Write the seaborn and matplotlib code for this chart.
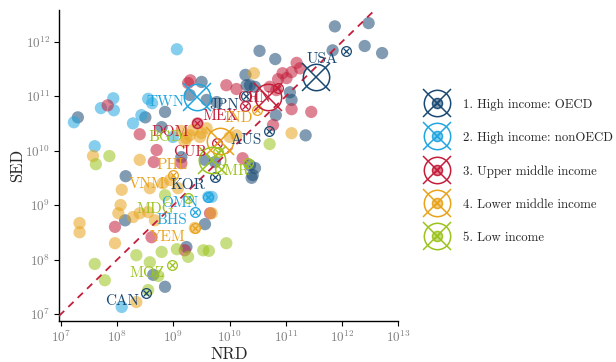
import numpy as np
import pandas as pd
import matplotlib
matplotlib.use("Agg")
import matplotlib.pyplot as plt
from matplotlib.lines import Line2D
from matplotlib.legend_handler import HandlerTuple
import seaborn as sns

# ---- income groups -------------------------------------------------------
groups = [
    "1. High income: OECD",
    "2. High income: nonOECD",
    "3. Upper middle income",
    "4. Lower middle income",
    "5. Low income",
]
colors = ["#1a4a73", "#22a6e0", "#c41e3a", "#e8a31b", "#9cc31c"]

# ---- country observations (log10 of NRD and SED) -------------------------
oecd_nrd = [7.30, 8.50, 8.85, 8.79, 8.15, 9.29, 9.77, 10.30, 10.45, 10.53, 10.81,
            11.87, 12.47, 12.40, 12.71, 11.83, 10.28, 10.36, 11.10, 11.07, 11.35,
            10.36, 10.41, 10.39, 9.56, 9.23, 8.64, 8.85, 9.14, 9.56, 9.74, 8.14,
            10.82, 10.45, 9.59, 9.50]
oecd_sed = [10.61, 10.61, 10.71, 10.43, 9.53, 11.02, 10.89, 11.20, 11.17, 11.83, 11.68,
            12.28, 12.34, 11.92, 11.79, 11.84, 11.39, 11.20, 10.93, 11.07, 10.28,
            9.73, 9.55, 9.50, 8.65, 8.23, 7.72, 7.50, 9.88, 9.83, 9.79, 8.72,
            10.65, 9.68, 10.93, 11.26]

nonoecd_nrd = [9.06, 7.23, 7.71, 7.93, 7.94, 8.55, 8.62, 8.43, 8.28, 7.60, 8.99,
               8.08, 9.62, 9.68]
nonoecd_sed = [11.86, 10.52, 10.78, 10.96, 10.74, 10.95, 10.87, 10.65, 10.50, 10.08, 10.25,
               7.13, 9.15, 9.15]

upper_nrd = [9.30, 7.83, 8.40, 8.70, 8.65, 9.14, 9.43, 7.96, 8.61, 9.20, 9.65,
             9.94, 10.12, 11.19, 11.10, 11.01, 10.86, 10.71, 10.83, 11.10, 11.45,
             10.77, 9.26, 10.23, 11.25, 10.94]
upper_sed = [11.29, 10.83, 10.30, 10.01, 9.79, 9.77, 10.50, 8.60, 8.41, 8.17, 8.85,
             11.20, 11.13, 11.61, 11.44, 11.33, 11.31, 11.17, 11.11, 10.76, 10.71,
             10.47, 11.24, 9.86, 11.51, 11.42]

lower_nrd = [7.57, 8.40, 8.08, 8.58, 8.81, 8.94, 8.06, 8.02, 8.28, 8.40, 8.55,
             7.33, 7.33, 7.96, 8.67, 8.34, 10.43, 11.10, 9.59, 9.50, 9.29, 9.20,
             9.14, 9.35, 9.47, 9.23, 10.00, 10.12, 9.68, 9.38, 9.08]
lower_sed = [9.90, 9.83, 9.28, 9.31, 9.40, 9.46, 9.00, 8.85, 8.78, 8.85, 8.87,
             8.67, 8.50, 8.30, 8.72, 7.22, 11.42, 10.32, 10.41, 10.32, 10.28, 10.16,
             10.36, 10.38, 10.25, 10.23, 10.25, 10.28, 8.85, 8.58, 9.31]

low_nrd = [7.62, 7.86, 8.85, 7.60, 7.78, 8.34, 8.58, 8.79, 9.06, 9.26, 9.53,
           9.94, 9.63, 8.73, 8.55, 10.71]
low_sed = [9.75, 9.90, 9.18, 7.92, 7.62, 8.08, 7.95, 8.14, 8.19, 8.05, 8.17,
           8.30, 8.16, 7.70, 7.44, 10.12]

# ---- highlighted countries (small circled crosses) -----------------------
mark_nrd = [12.07, 10.29, 10.69, 9.74, 8.52,
            9.62, 9.38,
            9.42, 9.77, 10.27, 10.86,
            8.99, 9.38, 10.48,
            8.98, 9.26, 9.79, 10.32]
mark_sed = [11.83, 11.00, 10.36, 9.51, 7.39,
            9.15, 8.87,
            10.50, 10.14, 10.82, 11.15,
            9.55, 8.58, 10.74,
            7.90, 9.13, 9.97, 9.77]
mark_group = [0, 0, 0, 0, 0,
              1, 1,
              2, 2, 2, 2,
              3, 3, 3,
              4, 4, 4, 4]

# ---- group centres (large circled crosses) -------------------------------
centre_nrd = [11.53, 9.41, 10.68, 9.82, 9.68]
centre_sed = [11.35, 10.98, 10.98, 10.17, 9.83]

# ---- country codes -------------------------------------------------------
label_text = ["USA", "TWN", "JPN", "CHN", "MEX", "IND", "DOM", "BGD", "AUS", "CUB",
              "CMR", "PHL", "VNM", "KOR", "OMN", "MDG", "BHS", "YEM", "MOZ", "CAN"]
label_nrd = [11.65, 8.86, 9.91, 10.43, 9.84, 10.16, 8.94, 8.86, 10.30, 9.29,
             10.02, 8.97, 8.53, 9.26, 9.11, 8.67, 8.97, 8.90, 8.53, 8.08]
label_sed = [11.68, 10.89, 10.83, 10.96, 10.63, 10.60, 10.34, 10.25, 10.19, 9.97,
             9.62, 9.73, 9.39, 9.37, 9.04, 8.93, 8.72, 8.41, 7.75, 7.24]
label_group = [0, 1, 0, 2, 2, 3, 2, 4, 0, 2,
               4, 3, 3, 0, 1, 4, 1, 3, 4, 0]

# ---- tidy table of all observations --------------------------------------
frames = []
for g, (xs, ys) in enumerate([(oecd_nrd, oecd_sed), (nonoecd_nrd, nonoecd_sed),
                              (upper_nrd, upper_sed), (lower_nrd, lower_sed),
                              (low_nrd, low_sed)]):
    frames.append(pd.DataFrame({"NRD": 10.0 ** np.array(xs),
                                "SED": 10.0 ** np.array(ys),
                                "group": groups[g]}))
df = pd.concat(frames, ignore_index=True)

# ---- style ---------------------------------------------------------------
sns.set_style("ticks")
plt.rcParams["font.family"] = ["cmr10", "DejaVu Serif"]
plt.rcParams["mathtext.fontset"] = "cm"
plt.rcParams["axes.formatter.use_mathtext"] = True
plt.rcParams["axes.unicode_minus"] = False

fig = plt.figure(figsize=(6.16, 3.62), dpi=100)
ax = fig.add_axes([0.0958, 0.114, 0.551, 0.858])

alpha = 0.55
sns.scatterplot(data=df, x="NRD", y="SED", hue="group", hue_order=groups,
                palette=colors, s=78, alpha=alpha, linewidth=0, legend=False,
                ax=ax, zorder=2)
ax.set_xscale("log")
ax.set_yscale("log")

xlo, xhi = 10 ** 6.965, 10 ** 13.0
ylo, yhi = 10 ** 6.877, 10 ** 12.578

# 45-degree reference line
ax.plot([xlo, yhi], [xlo, yhi], color="#c41e3a", lw=1.3, dashes=(4.0, 3.2), zorder=3)

# small circled crosses for highlighted countries
for x, y, g in zip(mark_nrd, mark_sed, mark_group):
    ax.plot(10 ** x, 10 ** y, marker="o", ms=7.0, mfc="none", mec=colors[g], mew=0.9, zorder=4)
    ax.plot(10 ** x, 10 ** y, marker="x", ms=5.0, mec=colors[g], mew=0.9, zorder=4)

# large circled crosses for group centres
for g, (x, y) in enumerate(zip(centre_nrd, centre_sed)):
    ax.plot(10 ** x, 10 ** y, marker="o", ms=19, mfc="none", mec=colors[g], mew=1.1, zorder=4)
    ax.plot(10 ** x, 10 ** y, marker="x", ms=20, mec=colors[g], mew=1.1, zorder=4)

# country codes
for t, x, y, g in zip(label_text, label_nrd, label_sed, label_group):
    ax.text(10 ** x, 10 ** y, t, color=colors[g], fontsize=11, ha="center",
            va="center", zorder=5)

ax.set_xlim(xlo, xhi)
ax.set_ylim(ylo, yhi)
ax.set_xticks([10.0 ** k for k in range(7, 14)])
ax.set_yticks([10.0 ** k for k in range(7, 13)])
ax.minorticks_off()
ax.tick_params(axis="both", which="major", direction="out", length=3.5, width=0.8,
               color="black", labelcolor="#808080", labelsize=9.5, pad=3)
for side in ("left", "bottom"):
    ax.spines[side].set_linewidth(1.0)
    ax.spines[side].set_color("black")
sns.despine(ax=ax)

ax.set_xlabel("NRD", fontsize=12, labelpad=1)
ax.set_ylabel("SED", fontsize=12, labelpad=0)

# legend: dot + small circled cross + large circled cross
handles = []
for c in colors:
    handles.append((
        Line2D([], [], ls="none", marker="o", ms=8.5, mfc=c, mec="none", alpha=alpha),
        Line2D([], [], ls="none", marker="o", ms=7.0, mfc="none", mec=c, mew=0.9),
        Line2D([], [], ls="none", marker="x", ms=5.0, mec=c, mew=0.9),
        Line2D([], [], ls="none", marker="o", ms=19, mfc="none", mec=c, mew=1.1),
        Line2D([], [], ls="none", marker="x", ms=20, mec=c, mew=1.1),
    ))
fig.legend(handles, groups, handler_map={tuple: HandlerTuple(ndivide=1)},
           loc="upper left", bbox_to_anchor=(0.685, 0.742), frameon=False,
           fontsize=9.2, handlelength=1.6, handletextpad=1.25, labelspacing=1.65,
           borderaxespad=0)

fig.savefig("out.png", dpi=100)
